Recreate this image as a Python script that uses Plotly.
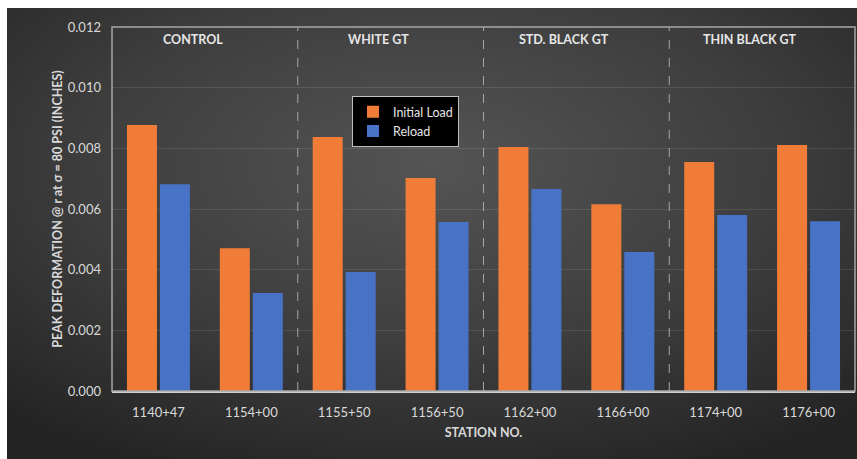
import plotly.graph_objects as go

# Station data: peak deformation at radius r under 80 psi contact stress
stations = ["1140+47", "1154+00", "1155+50", "1156+50",
            "1162+00", "1166+00", "1174+00", "1176+00"]
initial_load = [0.00877, 0.00471, 0.00837, 0.00702,
                0.00804, 0.00616, 0.00755, 0.00811]
reload_vals = [0.00682, 0.00323, 0.00392, 0.00557,
               0.00666, 0.00458, 0.00580, 0.00560]

# Test-section groups (two stations each)
sections = ["CONTROL", "WHITE GT", "STD. BLACK GT", "THIN BLACK GT"]
y_ticks = [0.000, 0.002, 0.004, 0.006, 0.008, 0.010, 0.012]

FONT = "Lato, 'Open Sans', sans-serif"
TXT = "#d9d9d9"

fig = go.Figure()
fig.add_trace(go.Bar(x=stations, y=initial_load, name="Initial Load",
                     marker=dict(color="#f07c38", line=dict(width=0))))
fig.add_trace(go.Bar(x=stations, y=reload_vals, name="Reload",
                     marker=dict(color="#4772c6", line=dict(width=0))))

# Dark radial-gradient chart area background
bg_svg = (
    "data:image/svg+xml;utf8,"
    "<svg xmlns='http://www.w3.org/2000/svg' width='850' height='451' preserveAspectRatio='none'>"
    "<defs><radialGradient id='g' cx='50%' cy='35%' r='75%'>"
    "<stop offset='0' stop-color='%23545454'/>"
    "<stop offset='0.55' stop-color='%233d3d3d'/>"
    "<stop offset='1' stop-color='%23232323'/>"
    "</radialGradient></defs>"
    "<rect width='850' height='451' fill='url(%23g)'/></svg>"
)

L, R, T, B = 112, 2, 27, 68
W, H = 857, 459
pw, ph = W - L - R, H - T - B

fig.add_layout_image(dict(
    source=bg_svg, xref="paper", yref="paper",
    x=(7 - L) / pw, y=(H - B - 8) / ph,
    sizex=(W - 7) / pw, sizey=(H - 8) / ph,
    xanchor="left", yanchor="top", sizing="stretch", layer="below"))

# Section separators between station pairs
for k in range(1, len(sections)):
    fig.add_shape(type="line", xref="x", yref="paper",
                  x0=2 * k - 0.5, x1=2 * k - 0.5, y0=0, y1=1,
                  line=dict(color="#a6a6a6", width=1, dash="dash"))

# Plot-area frame
fig.add_shape(type="rect", xref="paper", yref="paper", x0=0, x1=1, y0=0, y1=1,
              line=dict(color="#a6a6a6", width=1.5), layer="above")

for k, name in enumerate(sections):
    fig.add_annotation(x=2 * k + 0.5, y=0.0116, xref="x", yref="y",
                       text=f"<b>{name}</b>", showarrow=False, xshift=-12,
                       font=dict(family=FONT, size=12.5, color="#e6e6e6"))

fig.update_layout(
    width=W, height=H,
    margin=dict(l=L, r=R, t=T, b=B),
    paper_bgcolor="white",
    plot_bgcolor="rgba(0,0,0,0)",
    barmode="group", bargap=0.29, bargroupgap=0.09,
    font=dict(family=FONT, color=TXT, size=12),
    legend=dict(x=0.323, y=0.81, xanchor="left", yanchor="top",
                bgcolor="black", bordercolor="#bfbfbf", borderwidth=1,
                font=dict(family=FONT, size=12.5, color="#e6e6e6"),
                itemsizing="constant", itemwidth=30, tracegroupgap=0),
    xaxis=dict(showgrid=False, showline=True, linecolor="#d0d0d0", linewidth=2,
               ticks="", ticklabelstandoff=8,
               tickfont=dict(family=FONT, size=13, color=TXT),
               title=dict(text="<b>STATION NO.</b>", standoff=10,
                          font=dict(family=FONT, size=12.5, color=TXT))),
    yaxis=dict(range=[0, 0.012], tickvals=y_ticks,
               ticktext=[f"{v:.3f}" for v in y_ticks],
               showgrid=True, gridcolor="rgba(255,255,255,0.1)", gridwidth=1,
               zeroline=False, showline=False, ticks="", ticklabelstandoff=10,
               tickfont=dict(family=FONT, size=13, color=TXT),
               title=dict(text="<b>PEAK DEFORMATION @ r at σ = 80 PSI (INCHES)</b>",
                          standoff=2,
                          font=dict(family=FONT, size=12.5, color=TXT))),
)

fig.write_html("out.html")
